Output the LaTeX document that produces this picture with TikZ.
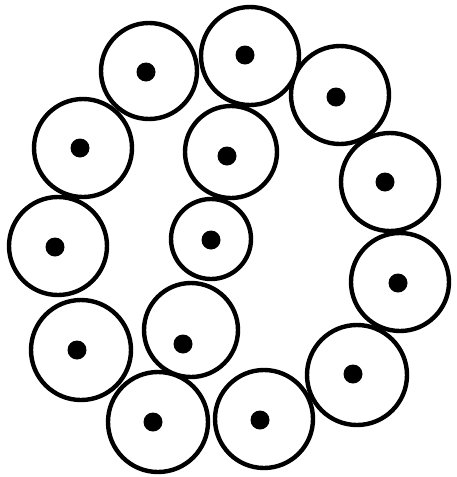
\documentclass[tikz,border=0pt]{standalone}
\begin{document}
\begin{tikzpicture}[x=1pt,y=-1pt,
  cell/.style={circle,draw=black,line width=4.4pt,fill=white,inner sep=0pt},
  nucleus/.style={circle,fill=black,inner sep=0pt,minimum size=19pt}]
\useasboundingbox (0,0) rectangle (456,477);
\foreach \n/\x/\y/\r in {c1/149/71/48, c2/250/56/49, c3/340/95/49, c4/390/182/49,
  c5/400/282/49, c6/357/375/50, c7/264/419/49, c8/158/422/50, c9/81/350/50,
  c10/58/246/49, c11/83/148/49, c12/231/152/46, c13/211/239/40, c14/191/330/47}
  \node[cell,minimum size=2*\r pt] (\n) at (\x,\y) {};
\foreach \n/\x/\y in {d1/146/72, d2/245/55, d3/336/97, d4/385/182, d5/398/283,
  d6/353/374, d7/260/420, d8/153/422, d9/77/350, d10/55/247, d11/80/148,
  d12/227/156, d13/211/240, d14/183/344}
  \node[nucleus] (\n) at (\x,\y) {};
\end{tikzpicture}
\end{document}
